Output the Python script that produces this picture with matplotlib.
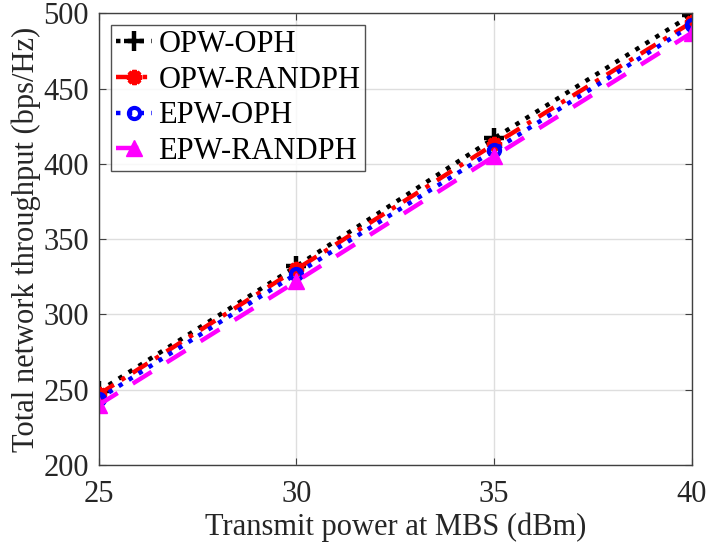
import matplotlib
matplotlib.use('Agg')
import matplotlib.pyplot as plt
import numpy as np

plt.rcParams['font.family'] = 'serif'
plt.rcParams['font.serif'] = ['Liberation Serif', 'DejaVu Serif']

power = [25, 30, 35, 40]
opw_oph = [249, 332, 417, 499]
opw_randph = [247, 330, 413, 494]
epw_oph = [244, 327, 409, 492]
epw_randph = [240, 322, 405, 487]
xticks = [25, 30, 35, 40]
yticks = [200, 250, 300, 350, 400, 450, 500]

fig = plt.figure(figsize=(7.11, 5.5), dpi=100)
ax = fig.add_axes([0.139, 0.1545, 0.834, 0.8215])

ax.plot(power, opw_oph, color='k', linestyle=':', linewidth=3.2, marker='+',
        markersize=15, markeredgewidth=3.2, label='OPW-OPH')
ax.plot(power, opw_randph, color='r', linestyle='-.', linewidth=3.2, marker=(8, 2, 0),
        markersize=11, markeredgewidth=3, label='OPW-RANDPH', dashes=(4, 2, 1, 2))
ax.plot(power, epw_oph, color='b', linestyle=':', linewidth=3.2, marker='o',
        markersize=8, markeredgewidth=3, markerfacecolor='none', label='EPW-OPH')
ax.plot(power, epw_randph, color='magenta', linestyle='--', linewidth=3.2, marker='^',
        markersize=11, label='EPW-RANDPH', dashes=(5, 4))

ax.set_xlim(25, 40)
ax.set_ylim(200, 500)
ax.set_xticks(xticks)
ax.set_xticklabels([str(v) for v in xticks], fontfamily='Liberation Serif')
ax.set_yticks(yticks)
ax.set_yticklabels([str(v) for v in yticks], fontfamily='Liberation Serif')
ax.grid(True, color='#dedede', linewidth=1)
ax.set_axisbelow(True)
for s in ax.spines.values():
    s.set_color('#404040')
    s.set_linewidth(1)
ax.tick_params(direction='in', top=True, right=True, labelsize=22, colors='#404040',
               length=5)
ax.tick_params(axis='x', pad=11)
ax.tick_params(axis='y', pad=7)
for lbl in ax.get_xticklabels() + ax.get_yticklabels():
    lbl.set_color('#262626')

ax.set_xlabel('Transmit power at MBS (dBm)', fontsize=22, color='#262626', labelpad=2)
ax.set_ylabel('Total network throughput (bps/Hz)', fontsize=22, color='#262626', labelpad=2)

leg = ax.legend(loc='upper left', fontsize=22, frameon=True, fancybox=False,
                edgecolor='#262626', handlelength=1.2, handletextpad=0.2,
                borderpad=0.15, labelspacing=0.22, borderaxespad=0.4)
leg.get_frame().set_linewidth(1)

fig.savefig('out.png', dpi=100)
